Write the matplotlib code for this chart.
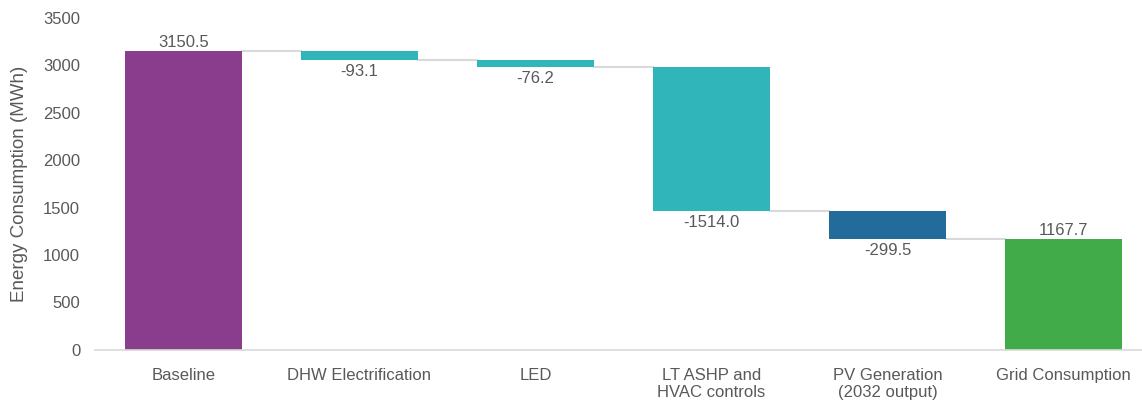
import matplotlib.pyplot as plt
import numpy as np

plt.rcParams['font.family'] = ['Liberation Sans', 'DejaVu Sans']

categories = ['Baseline', 'DHW Electrification', 'LED', 'LT ASHP and\nHVAC controls',
              'PV Generation\n(2032 output)', 'Grid Consumption']
values = [3150.5, -93.1, -76.2, -1514.0, -299.5, 1167.7]
is_total = [True, False, False, False, False, True]
colors = ['#8B3D8D', '#30B5BB', '#30B5BB', '#30B5BB', '#236B9A', '#41AB4A']

text_color = '#595959'

fig = plt.figure(figsize=(11.42, 4.05), dpi=100)
ax = fig.add_axes([0.0836, 0.136, 0.9164, 0.82])

x = np.arange(len(categories))
width = 0.665
bottoms = []
heights = []
running = 0.0
for v, tot in zip(values, is_total):
    if tot:
        bottoms.append(0.0)
        heights.append(v)
        running = v
    else:
        bottoms.append(running + v)
        heights.append(-v)
        running = running + v

ax.bar(x, heights, width, bottom=bottoms, color=colors, zorder=2)

# connector lines between bars
levels = []
running = 0.0
for v, tot in zip(values, is_total):
    running = v if tot else running + v
    levels.append(running)
for i in range(len(x) - 1):
    ax.plot([x[i] + width / 2, x[i + 1] - width / 2], [levels[i], levels[i]],
            color='#d9d9d9', lw=1.5, zorder=1)

# value labels
for i, v in enumerate(values):
    if v >= 0:
        ax.annotate(f'{v:.1f}', (x[i], bottoms[i] + heights[i]), xytext=(0, 1),
                    textcoords='offset points', ha='center', va='bottom',
                    fontsize=12, color=text_color)
    else:
        ax.annotate(f'{v:.1f}', (x[i], bottoms[i]), xytext=(0, -3),
                    textcoords='offset points', ha='center', va='top',
                    fontsize=12, color=text_color)

ax.set_xlim(-0.5, 5.446)
ax.set_ylim(0, 3500)
ax.set_yticks(np.arange(0, 3501, 500))
ax.set_xticks(x)
ax.set_xticklabels(categories)
ax.tick_params(axis='both', length=0, labelsize=12, colors=text_color)
ax.tick_params(axis='x', pad=13)
ax.tick_params(axis='y', pad=11)
ax.set_ylabel('Energy Consumption (MWh)', fontsize=13.5, color=text_color, labelpad=11)

for s in ['top', 'right', 'left']:
    ax.spines[s].set_visible(False)
ax.spines['bottom'].set_color('#d9d9d9')
ax.spines['bottom'].set_linewidth(1.2)

fig.savefig('out.png', dpi=100)
